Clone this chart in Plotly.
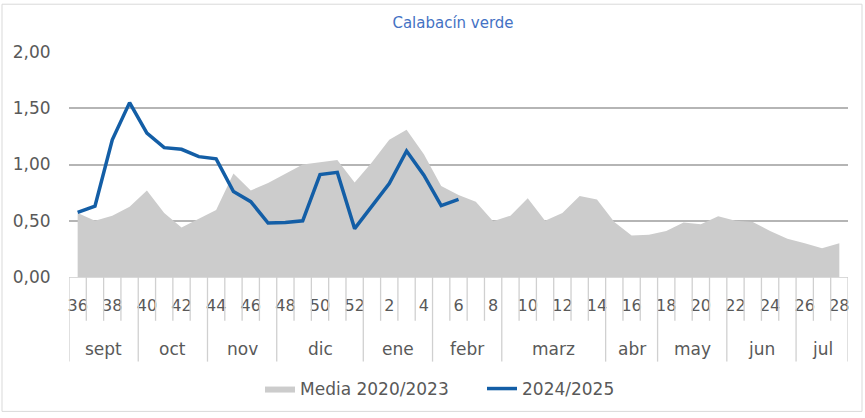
import plotly.graph_objects as go

weeks = list(range(36, 53)) + list(range(1, 29))
media = [0.57, 0.50, 0.545, 0.625, 0.77, 0.57, 0.44, 0.515, 0.595, 0.92,
         0.77, 0.835, 0.915, 1.00, 1.02, 1.04, 0.84, 1.02, 1.22, 1.31,
         1.09, 0.81, 0.73, 0.67, 0.495, 0.545, 0.70, 0.50, 0.57, 0.72,
         0.69, 0.49, 0.37, 0.375, 0.41, 0.485, 0.47, 0.54, 0.50, 0.49,
         0.41, 0.34, 0.30, 0.255, 0.30]
s2425 = [0.575, 0.63, 1.22, 1.55, 1.28, 1.15, 1.135, 1.07, 1.05, 0.76,
         0.67, 0.48, 0.485, 0.50, 0.91, 0.93, 0.43, 0.635, 0.83, 1.12,
         0.905, 0.635, 0.69]
months = ["sept", "oct", "nov", "dic", "ene", "febr", "marz", "abr", "may", "jun", "jul"]
month_len = [4, 4, 4, 5, 4, 4, 6, 3, 4, 4, 3]

n = len(weeks)
x = list(range(n))
y2 = s2425 + [None] * (n - len(s2425))

FONT = "DejaVu Sans"
GRAY_TXT = "#595959"

fig = go.Figure()
fig.add_trace(go.Scatter(x=x, y=media, name="Media 2020/2023", mode="lines",
                         fill="tozeroy", fillcolor="#CCCCCC",
                         line=dict(width=0, color="#CCCCCC")))
fig.add_trace(go.Scatter(x=x, y=y2, name="2024/2025", mode="lines",
                         line=dict(width=3.5, color="#135EA6")))

# plot area pixel geometry
L, R, T, B = 69, 848, 52, 278
W, H = R - L, B - T

def py(Y):
    return (B - Y) / H

def px(X):
    return (X - L) / W

shapes = []
starts = [0]
for m in month_len:
    starts.append(starts[-1] + m)
for k in range(n + 1):
    long = k in starts
    shapes.append(dict(type="line", xref="x", yref="paper", x0=k - 0.5, x1=k - 0.5,
                       y0=0, y1=py(363 if long else 322),
                       line=dict(color="#D0D0D0", width=1.3)))
shapes.append(dict(type="rect", xref="paper", yref="paper", x0=px(2), x1=px(862),
                   y0=py(413), y1=py(4), line=dict(color="#D9D9D9", width=1)))

annotations = []
for mname, s, m in zip(months, starts[:-1], month_len):
    annotations.append(dict(x=s + (m - 1) / 2, y=py(350), xref="x", yref="paper",
                            text=mname, showarrow=False, yanchor="middle",
                            font=dict(family=FONT, size=17, color=GRAY_TXT)))

tickvals = list(range(0, n, 2))
ticktext = [str(weeks[i]) for i in tickvals]

fig.update_layout(
    width=865, height=418,
    margin=dict(l=L, r=865 - R, t=T, b=418 - B),
    paper_bgcolor="white", plot_bgcolor="white",
    separators=",.",
    title=dict(text="Calabacín verde", x=453 / 865, xref="container", xanchor="center",
               y=1 - 23 / 418, yanchor="middle",
               font=dict(family=FONT, size=15, color="#4472C4")),
    xaxis=dict(range=[-0.5, n - 0.5], tickvals=tickvals, ticktext=ticktext,
               showgrid=False, zeroline=False, showline=True, linecolor="#D9D9D9",
               ticks="outside", ticklen=14, tickcolor="rgba(0,0,0,0)",
               tickfont=dict(family=FONT, size=16, color=GRAY_TXT)),
    yaxis=dict(range=[0, 2], tickvals=[0, 0.5, 1, 1.5, 2], tickformat=".2f",
               showgrid=True, gridcolor="#B5B5B5", gridwidth=1.5, zeroline=False,
               ticks="outside", ticklen=14, tickcolor="rgba(0,0,0,0)",
               tickfont=dict(family=FONT, size=17, color=GRAY_TXT)),
    legend=dict(orientation="h", x=px(260), xanchor="left", y=py(389), yanchor="middle",
                entrywidth=177, itemwidth=30,
                font=dict(family=FONT, size=17, color=GRAY_TXT), bgcolor="rgba(0,0,0,0)"),
    shapes=shapes,
    annotations=annotations,
)

fig.write_html("out.html", config={"displayModeBar": False},
               post_script="document.body.style.margin='0';")
